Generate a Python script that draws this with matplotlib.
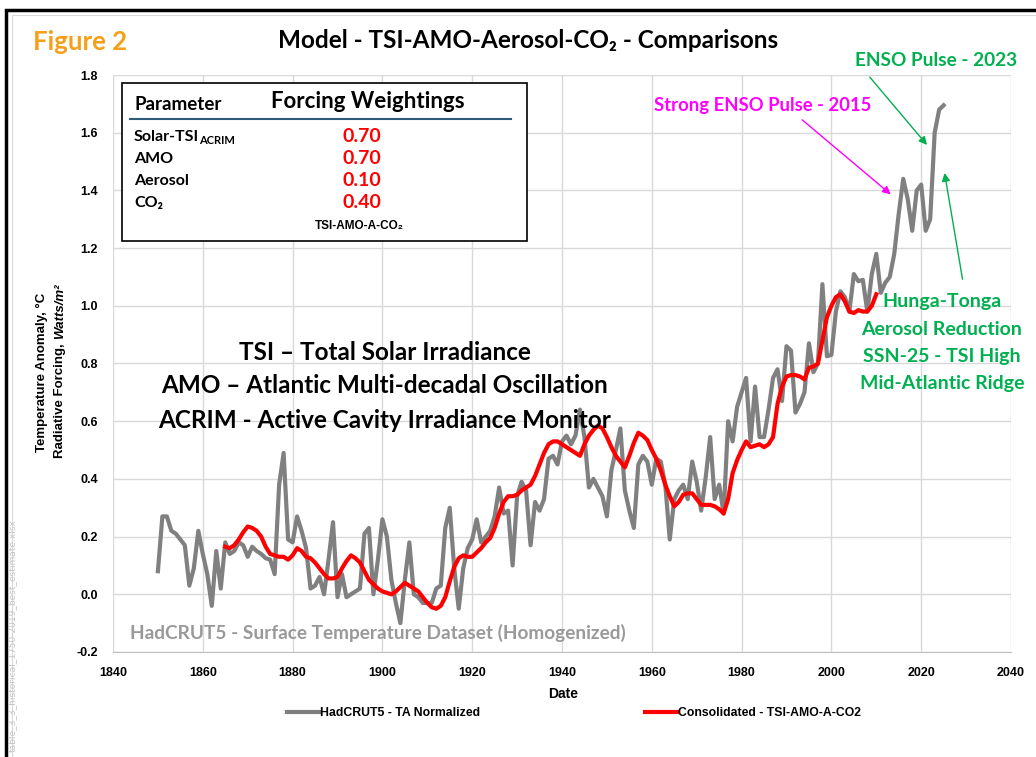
import numpy as np
import matplotlib.pyplot as plt
from matplotlib.patches import Rectangle
from matplotlib.lines import Line2D

# HadCRUT5 annual anomaly (normalized), 1850-2025
had_vals = [
    0.08, 0.27, 0.27, 0.22, 0.21, 0.19, 0.17, 0.03, 0.09, 0.22,    # 1850s
    0.14, 0.07, -0.04, 0.15, 0.02, 0.18, 0.14, 0.15, 0.18, 0.17,   # 1860s
    0.13, 0.165, 0.15, 0.14, 0.125, 0.12, 0.07, 0.38, 0.49, 0.19,  # 1870s
    0.18, 0.27, 0.22, 0.16, 0.02, 0.03, 0.06, 0.00, 0.12, 0.25,    # 1880s
    -0.01, 0.07, -0.01, 0.00, 0.01, 0.02, 0.21, 0.23, 0.00, 0.12,  # 1890s
    0.26, 0.20, 0.05, -0.03, -0.10, 0.05, 0.18, 0.00, -0.01, -0.03,  # 1900s
    -0.03, -0.03, 0.02, 0.03, 0.23, 0.30, 0.09, -0.05, 0.09, 0.16,   # 1910s
    0.19, 0.26, 0.18, 0.20, 0.22, 0.27, 0.37, 0.28, 0.29, 0.10,    # 1920s
    0.34, 0.39, 0.36, 0.17, 0.32, 0.29, 0.33, 0.47, 0.48, 0.45,    # 1930s
    0.53, 0.55, 0.52, 0.55, 0.64, 0.545, 0.37, 0.40, 0.37, 0.34,   # 1940s
    0.27, 0.43, 0.50, 0.575, 0.36, 0.29, 0.23, 0.45, 0.48, 0.46,   # 1950s
    0.38, 0.47, 0.46, 0.38, 0.19, 0.33, 0.36, 0.38, 0.33, 0.46,    # 1960s
    0.39, 0.29, 0.405, 0.545, 0.33, 0.38, 0.28, 0.60, 0.53, 0.65,  # 1970s
    0.70, 0.75, 0.53, 0.72, 0.545, 0.545, 0.64, 0.75, 0.78, 0.67,  # 1980s
    0.86, 0.845, 0.63, 0.66, 0.70, 0.87, 0.77, 0.80, 1.075, 0.825, # 1990s
    0.83, 0.98, 1.05, 1.03, 0.98, 1.11, 1.085, 1.09, 0.98, 1.11,   # 2000s
    1.18, 1.045, 1.08, 1.10, 1.18, 1.32, 1.44, 1.37, 1.26, 1.40,   # 2010s
    1.42, 1.26, 1.30, 1.60, 1.68, 1.695,                           # 2020s
]
had_years = np.arange(1850, 1850 + len(had_vals))

# Consolidated model TSI-AMO-A-CO2, 1865-2010
model_vals = [
    0.165, 0.16, 0.17, 0.19, 0.215,                                # 1865-69
    0.235, 0.23, 0.22, 0.20, 0.165, 0.14, 0.135, 0.13, 0.13, 0.12,  # 1870s
    0.135, 0.16, 0.15, 0.13, 0.125, 0.11, 0.09, 0.07, 0.055, 0.055, # 1880s
    0.06, 0.09, 0.115, 0.135, 0.125, 0.11, 0.08, 0.05, 0.035, 0.02, # 1890s
    0.01, 0.005, 0.0, 0.01, 0.025, 0.04, 0.03, 0.02, 0.01, -0.01,   # 1900s
    -0.03, -0.045, -0.05, -0.04, -0.01, 0.045, 0.095, 0.125, 0.135, 0.13,  # 1910s
    0.13, 0.145, 0.16, 0.18, 0.195, 0.23, 0.28, 0.32, 0.34, 0.34,   # 1920s
    0.345, 0.36, 0.37, 0.38, 0.41, 0.45, 0.49, 0.52, 0.53, 0.53,    # 1930s
    0.52, 0.51, 0.50, 0.49, 0.48, 0.52, 0.55, 0.57, 0.585, 0.575,   # 1940s
    0.545, 0.51, 0.48, 0.46, 0.44, 0.48, 0.525, 0.56, 0.55, 0.535,  # 1950s
    0.50, 0.47, 0.43, 0.38, 0.34, 0.305, 0.32, 0.345, 0.35, 0.35,   # 1960s
    0.33, 0.31, 0.31, 0.31, 0.305, 0.295, 0.28, 0.33, 0.42, 0.465,  # 1970s
    0.50, 0.53, 0.51, 0.515, 0.52, 0.51, 0.52, 0.545, 0.66, 0.72,   # 1980s
    0.755, 0.76, 0.76, 0.755, 0.745, 0.785, 0.79, 0.80, 0.88, 0.96, # 1990s
    1.0, 1.03, 1.04, 1.015, 0.98, 0.975, 0.985, 0.98, 0.98, 1.0,    # 2000s
    1.04,                                                           # 2010
]
model_years = np.arange(1865, 1865 + len(model_vals))

x_ticks = list(range(1840, 2041, 20))
y_ticks = [-0.2, 0.0, 0.2, 0.4, 0.6, 0.8, 1.0, 1.2, 1.4, 1.6, 1.8]

params = ['Solar-TSI', 'AMO', 'Aerosol', 'CO\u2082']
weights = ['0.70', '0.70', '0.10', '0.40']

W, H = 1036, 757
ARIAL = ['Liberation Sans', 'DejaVu Sans']
MAIN = ['Lato', 'DejaVu Sans']
plt.rcParams['font.family'] = MAIN


def fx(px):
    return px / W


def fy(py):
    return 1 - py / H


fig = plt.figure(figsize=(W / 100, H / 100), dpi=100)
fig.patch.set_facecolor('white')

# frame around the whole picture
fig.add_artist(Rectangle((fx(6), fy(H + 5)), 1.1, fy(10) - fy(H + 5), transform=fig.transFigure,
                         fill=False, edgecolor='black', lw=2.5))
fig.add_artist(Rectangle((fx(12), fy(H + 5)), 1.1, fy(15) - fy(H + 5), transform=fig.transFigure,
                         fill=False, edgecolor='#D9D9D9', lw=0.8))

ax = fig.add_axes([fx(113), fy(652), (1011 - 113) / W, (652 - 75) / H])
ax.plot(had_years, had_vals, color='#808080', lw=3, label='HadCRUT5 - TA Normalized',
        solid_joinstyle='round', zorder=3)
ax.plot(model_years, model_vals, color='#FF0000', lw=3, label='Consolidated - TSI-AMO-A-CO2',
        solid_joinstyle='round', zorder=4)

ax.set_xlim(1840, 2040)
ax.set_ylim(-0.2, 1.8)
ax.set_xticks(x_ticks)
ax.set_xticklabels([str(t) for t in x_ticks], family=ARIAL, fontweight='bold', fontsize=9)
ax.set_yticks(y_ticks)
ax.set_yticklabels([f'{t:.1f}' for t in y_ticks], family=ARIAL, fontweight='bold', fontsize=9)
ax.tick_params(length=0, pad=11)
ax.grid(True, color='#D9D9D9', lw=1)
ax.set_axisbelow(True)
for s in ['top', 'right', 'left']:
    ax.spines[s].set_visible(False)
ax.spines['bottom'].set_color('#BFBFBF')

fig.text(fx(563), fy(694), 'Date', ha='center', va='center', family=ARIAL,
         fontweight='bold', fontsize=10)
fig.text(fx(42), fy(452), 'Temperature Anomaly, \u00b0C', rotation=90, ha='center', va='bottom',
         family=ARIAL, fontweight='bold', fontsize=9.5)
rf = fig.text(fx(60), fy(458), 'Radiative Forcing,', rotation=90, ha='center', va='bottom',
              family=ARIAL, fontweight='bold', fontsize=9.5)

fig.legend(loc='center', bbox_to_anchor=(fx(574), fy(713)), ncol=2, frameon=False,
           prop={'family': ARIAL, 'weight': 'bold', 'size': 8.8},
           handlelength=2.6, handletextpad=0.1, columnspacing=13.5)

fig.text(fx(12), fy(752), 'table_3_3_historical_1750-2019_best_estimate.xlsx', rotation=90,
         ha='center', va='bottom', color='#C4C4C4', fontsize=6.5, family='DejaVu Sans')

# titles
fig.text(fx(33), fy(42), 'Figure 2', ha='left', va='center', color='#F5A01A',
         fontweight='bold', fontsize=18.5)
fig.text(fx(528), fy(41), 'Model - TSI-AMO-Aerosol-CO\u2082 - Comparisons', ha='center',
         va='center', fontweight='bold', fontsize=17.5)

# weighting table
fig.add_artist(Rectangle((fx(122), fy(241)), (527 - 122) / W, fy(83) - fy(241),
                         transform=fig.transFigure, facecolor='white', edgecolor='black', lw=1.2))
fig.text(fx(134), fy(104), 'Parameter', ha='left', va='center', fontweight='bold', fontsize=13.5)
fig.text(fx(368), fy(102), 'Forcing Weightings', ha='center', va='center', fontweight='bold',
         fontsize=16)
fig.add_artist(Line2D([fx(130), fx(511)], [fy(119), fy(119)], transform=fig.transFigure,
                      color='#2E5C7A', lw=1.5))
row_y = [137, 159, 181, 203]
row_txt = []
for name, w, y in zip(params, weights, row_y):
    row_txt.append(fig.text(fx(134), fy(y), name, ha='left', va='center', fontweight='bold',
                            fontsize=11.5))
    fig.text(fx(362), fy(y), w, ha='center', va='center', color='#FF0000', fontweight='bold',
             fontsize=14)
fig.canvas.draw()
bb = row_txt[0].get_window_extent()
fig.text(bb.x1 / W, fy(141), 'ACRIM', ha='left', va='center', fontweight='bold', fontsize=8)
rb = rf.get_window_extent()
fig.text(fx(60), (rb.y1 + 4) / H, 'Watts/m\u00b2', rotation=90, ha='center', va='bottom',
         family=ARIAL, fontweight='bold', fontstyle='italic', fontsize=9.5)
fig.text(fx(359), fy(226), 'TSI-AMO-A-CO\u2082', ha='center', va='center', family=ARIAL,
         fontweight='bold', fontsize=8.5)

# acronym notes
notes = ['TSI \u2013 Total Solar Irradiance',
         'AMO \u2013 Atlantic Multi-decadal Oscillation',
         'ACRIM - Active Cavity Irradiance Monitor']
for txt, y in zip(notes, [352, 386, 421]):
    fig.text(fx(385), fy(y), txt, ha='center', va='center', fontweight='bold', fontsize=17.5)

fig.text(fx(130), fy(633), 'HadCRUT5 - Surface Temperature Dataset (Homogenized)', ha='left',
         va='center', color='#999999', fontweight='bold', fontsize=13.7)

# callouts
magenta = '#FF00FF'
green = '#00B050'
fig.text(fx(763), fy(105), 'Strong ENSO Pulse - 2015', ha='center', va='center', color=magenta,
         fontweight='bold', fontsize=13.3)
ax.annotate('', xy=(2013.7, 1.38), xytext=(fx(800), fy(118)), textcoords='figure fraction',
            arrowprops=dict(arrowstyle='-|>', color=magenta, lw=1, mutation_scale=12))
fig.text(fx(936), fy(60), 'ENSO Pulse - 2023', ha='center', va='center', color=green,
         fontweight='bold', fontsize=13.7)
ax.annotate('', xy=(2021.7, 1.55), xytext=(fx(868), fy(75)), textcoords='figure fraction',
            arrowprops=dict(arrowstyle='-|>', color=green, lw=1, mutation_scale=12))
for txt, y in zip(['Hunga-Tonga', 'Aerosol Reduction', 'SSN-25 - TSI High', 'Mid-Atlantic Ridge'],
                  [302, 330, 357, 383]):
    fig.text(fx(942), fy(y), txt, ha='center', va='center', color=green, fontweight='bold',
             fontsize=14)
ax.annotate('', xy=(2025.1, 1.47), xytext=(fx(963), fy(282)), textcoords='figure fraction',
            arrowprops=dict(arrowstyle='-|>', color=green, lw=1, mutation_scale=12))

fig.savefig('out.png', dpi=100)
